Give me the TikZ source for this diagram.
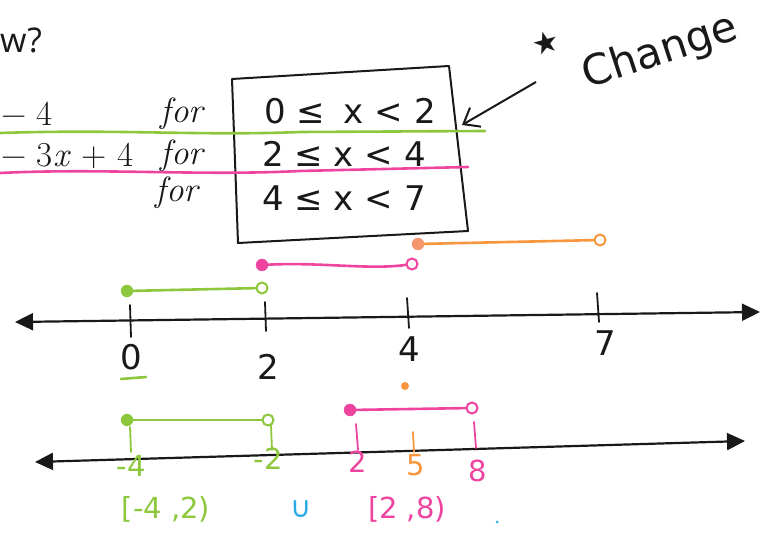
\documentclass[tikz,border=0pt]{standalone}
\usepackage{fontspec}
\newfontfamily\hand{DejaVu Sans}
\newfontfamily\printsans{Open Sans}
\usetikzlibrary{arrows.meta}
\definecolor{hgreen}{RGB}{141,200,60}
\definecolor{hpink}{RGB}{238,68,160}
\definecolor{horange}{RGB}{247,150,60}
\definecolor{hsalmon}{RGB}{245,150,110}
\definecolor{hblue}{RGB}{40,170,230}
\definecolor{ink}{RGB}{25,25,25}
\begin{document}
\begin{tikzpicture}[x=1pt,y=-1pt,
  printed/.style={inner sep=0pt, text=ink, font=\fontsize{35}{38}\selectfont},
  handtext/.style={inner sep=0pt, text=ink, font=\hand\fontsize{34}{37}\selectfont},
  handlab/.style={inner sep=0pt, text=#1, font=\hand\fontsize{29}{32}\selectfont},
  hiline/.style={draw=#1, line width=2.6pt, line cap=round},
  seg/.style={draw=#1, line width=2.6pt, line cap=round},
  axisline/.style={draw=ink, line width=2.2pt, {Triangle[length=18pt,width=17pt]}-{Triangle[length=18pt,width=17pt]}},
  tickmark/.style={draw=#1, line width=1.8pt, line cap=round},
  closeddot/.style={circle, fill=#1, draw=#1, minimum size=12pt, inner sep=0pt},
  opendot/.style={circle, draw=#1, fill=white, line width=2pt, minimum size=11pt, inner sep=0pt},
  boxline/.style={draw=ink, line width=2pt, line join=round}
]
\useasboundingbox (0,0) rectangle (768,534);

% ---- printed text (left) ----
\node[anchor=west, inner sep=0pt, text=ink, font=\printsans\fontsize{34}{37}\selectfont] (wq) at (0,40) {w?};
\node[printed, anchor=west] (r1expr) at (1,114) {− 4};
\node[printed, anchor=west] (r2expr) at (1,156) {− 3\textit{x} + 4};
\node[printed] (for1) at (183,114) {\textit{for}};
\node[printed] (for2) at (183,156) {\textit{for}};
\node[printed] (for3) at (178,193) {\textit{for}};

% ---- hand-drawn box with conditions ----
\draw[boxline] (232,79) -- (449,66) -- (468,231) -- (238,243) -- cycle;
\node[handtext, anchor=west] (c1) at (264,111) {0 ≤\hspace{8pt} x < 2};
\node[handtext, anchor=west] (c2) at (262,154) {2 ≤ x < 4};
\node[handtext, anchor=west] (c3) at (262,198) {4 ≤ x < 7};

% ---- highlighter lines ----
\draw[hiline=hgreen] (0,133) .. controls (120,129) and (200,136) .. (300,132) -- (485,131);
\draw[hiline=hpink] (0,173) .. controls (100,168) and (200,176) .. (300,171) -- (468,167);

% ---- "Change" note and arrow ----
\node[inner sep=0pt, text=ink, font=\hand\fontsize{30}{32}\selectfont, rotate=15] (star) at (546,43) {★};
\node[inner sep=0pt, text=ink, font=\hand\fontsize{42}{46}\selectfont, rotate=18, anchor=south west] (change) at (590,97) {Change};
\coordinate (arrtail) at (536,82);
\coordinate (arrtip) at (462,125);
\draw[draw=ink, line width=2pt, -{Straight Barb[length=14pt,width=22pt,line width=2pt]}] (arrtail) -- (arrtip);

% ---- number line 1 ----
\coordinate (n1l) at (15,322);
\coordinate (n1r) at (760,312);
\draw[axisline] (n1l) -- (n1r);
\coordinate (t0a) at (130,305); \coordinate (t0b) at (131,337);
\coordinate (t2a) at (265,302); \coordinate (t2b) at (266,331);
\coordinate (t4a) at (407,298); \coordinate (t4b) at (409,328);
\coordinate (t7a) at (597,293); \coordinate (t7b) at (599,322);
\draw[tickmark=ink] (t0a) -- (t0b);
\draw[tickmark=ink] (t2a) -- (t2b);
\draw[tickmark=ink] (t4a) -- (t4b);
\draw[tickmark=ink] (t7a) -- (t7b);
\node[handtext] (l0) at (131,357) {0};
\node[handtext] (l2) at (268,367) {2};
\node[handtext] (l4) at (409,349) {4};
\node[handtext] (l7) at (605,343) {7};
\coordinate (ul0a) at (121,379); \coordinate (ul0b) at (146,377);
\draw[seg=hgreen] (ul0a) -- (ul0b);
\node[circle, fill=horange, inner sep=0pt, minimum size=8pt] (odot) at (405,386) {};

% intervals above line 1
\node[closeddot=hgreen] (g1a) at (127,291) {};
\node[opendot=hgreen] (g1b) at (262,288) {};
\draw[seg=hgreen] (g1a) -- (g1b);
\node[closeddot=hpink] (p1a) at (262,265) {};
\node[opendot=hpink] (p1b) at (412,264) {};
\draw[seg=hpink] (p1a) .. controls (320,262) and (370,270) .. (p1b);
\node[closeddot=hsalmon] (o1a) at (418,244) {};
\node[opendot=horange] (o1b) at (600,240) {};
\draw[seg=horange] (o1a) -- (o1b);

% ---- number line 2 ----
\coordinate (n2l) at (35,462);
\coordinate (n2r) at (745,441);
\draw[axisline] (n2l) -- (n2r);
\coordinate (s1a) at (130,427); \coordinate (s1b) at (131,452);
\coordinate (s2a) at (271,425); \coordinate (s2b) at (272,450);
\coordinate (s3a) at (356,424); \coordinate (s3b) at (358,450);
\coordinate (s4a) at (413,432); \coordinate (s4b) at (414,452);
\coordinate (s5a) at (474,422); \coordinate (s5b) at (476,448);
\draw[tickmark=hgreen] (s1a) -- (s1b);
\draw[tickmark=hgreen] (s2a) -- (s2b);
\draw[tickmark=hpink] (s3a) -- (s3b);
\draw[tickmark=horange] (s4a) -- (s4b);
\draw[tickmark=hpink] (s5a) -- (s5b);

\node[closeddot=hgreen] (g2a) at (127,420) {};
\node[opendot=hgreen] (g2b) at (268,420) {};
\draw[seg=hgreen] (g2a) -- (g2b);
\node[closeddot=hpink] (p2a) at (350,410) {};
\node[opendot=hpink] (p2b) at (472,408) {};
\draw[seg=hpink] (p2a) -- (p2b);

\node[handlab=hgreen] (lm4) at (131,466) {-4};
\node[handlab=hgreen] (lm2) at (268,459) {-2};
\node[handlab=hpink] (lp2) at (358,462) {2};
\node[handlab=horange] (lp5) at (416,465) {5};
\node[handlab=hpink] (lp8) at (478,471) {8};

\node[handlab=hgreen] (int1) at (166,509) {[-4 ,2)};
\node[handlab=hblue] (cup) at (301,509) {∪};
\node[handlab=hpink] (int2) at (407,509) {[2 ,8)};
\node[circle, fill=hblue, inner sep=0pt, minimum size=3pt] (bdot) at (497,522) {};
\end{tikzpicture}
\end{document}
